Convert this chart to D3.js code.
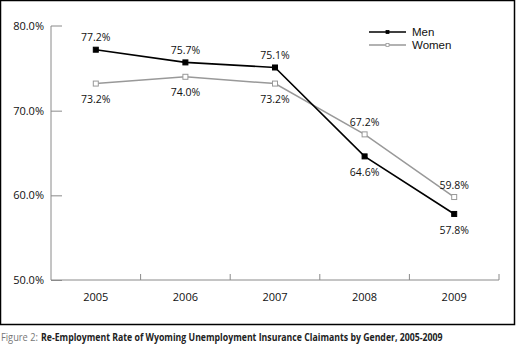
<!DOCTYPE html>
<html lang="en">
<head>
  <meta charset="UTF-8">
  <title>Figure 2</title>
  <script src="https://d3js.org/d3.v7.min.js"></script>
  <style>
    * { margin: 0; padding: 0; box-sizing: border-box; }
    body { background: #fff; font-family: "Open Sans", Arial, sans-serif; }
  </style>
</head>
<body>
  <div id="chart"></div>
  <script>
    const years = ["2005", "2006", "2007", "2008", "2009"];
    const men = [77.2, 75.7, 75.1, 64.6, 57.8];
    const women = [73.2, 74.0, 73.2, 67.2, 59.8];
    const yTicks = [50, 60, 70, 80];
    // label above (true) or below (false) each point
    const menAbove = [true, true, true, false, false];
    const womenAbove = [false, false, false, true, true];

    const W = 516, H = 350;
    const margin = {top: 26, right: 17, bottom: 70, left: 51};
    const width = W - margin.left - margin.right,
          height = 280 - margin.top;

    const root = d3.select("#chart").append("svg")
      .attr("width", W).attr("height", H);

    // frame
    root.append("rect")
      .attr("x", 0.5).attr("y", 0.5)
      .attr("width", 514).attr("height", 324)
      .attr("fill", "none").attr("stroke", "#000").attr("stroke-width", 1.5);

    const svg = root.append("g")
      .attr("transform", `translate(${margin.left},${margin.top})`);

    const x = d3.scaleBand().domain(years).range([0, width]);
    const y = d3.scaleLinear().domain([50, 80]).range([height, 0]);
    const cx = d => x(d) + x.bandwidth() / 2;

    // y axis
    const yAx = svg.append("g")
      .call(d3.axisRight(y).tickValues(yTicks).tickSize(11).tickFormat(""));
    yAx.selectAll("path, line").attr("stroke", "#8a8a8a");
    yAx.select(".domain").attr("d", `M0,${height}V0H11`);
    yAx.selectAll(".tick").filter(d => d === 80).remove();

    svg.append("g").selectAll("text")
      .data(yTicks).join("text")
      .attr("x", -7).attr("y", d => y(d)).attr("dy", "0.35em")
      .attr("text-anchor", "end")
      .style("font-size", "11px").style("fill", "#111")
      .text(d => d.toFixed(1) + "%");

    // x axis
    const xAx = svg.append("g")
      .attr("transform", `translate(0,${height})`);
    xAx.append("line").attr("x1", 0).attr("x2", width)
      .attr("stroke", "#8a8a8a");
    xAx.selectAll(".tk")
      .data(years.slice(1).concat(["end"])).join("line")
      .attr("x1", (d, i) => x.bandwidth() * (i + 1))
      .attr("x2", (d, i) => x.bandwidth() * (i + 1))
      .attr("y1", 0).attr("y2", -6)
      .attr("stroke", "#8a8a8a");
    xAx.selectAll("text")
      .data(years).join("text")
      .attr("x", d => cx(d)).attr("y", 17).attr("dy", "0.35em")
      .attr("text-anchor", "middle")
      .style("font-size", "11px").style("fill", "#111")
      .text(d => d);

    const series = [
      {name: "Men", values: men, above: menAbove, color: "#000", fill: "#000", width: 1.6},
      {name: "Women", values: women, above: womenAbove, color: "#999", fill: "#fff", width: 1.5}
    ];

    const line = d3.line().x((d, i) => cx(years[i])).y(d => y(d));

    series.slice().reverse().forEach(s => {
      svg.append("path").datum(s.values)
        .attr("d", line).attr("fill", "none")
        .attr("stroke", s.color).attr("stroke-width", s.width);
    });
    series.forEach(s => {
      svg.append("g").selectAll("rect")
        .data(s.values).join("rect")
        .attr("x", (d, i) => cx(years[i]) - 2.5)
        .attr("y", d => y(d) - 2.5)
        .attr("width", 5).attr("height", 5)
        .attr("fill", s.fill).attr("stroke", s.color).attr("stroke-width", 1);
      svg.append("g").selectAll("text")
        .data(s.values).join("text")
        .attr("x", (d, i) => cx(years[i]))
        .attr("y", (d, i) => y(d) + (s.above[i] ? -12 : 16))
        .attr("dy", "0.35em")
        .attr("text-anchor", "middle")
        .style("font-size", "10.5px").style("fill", "#111")
        .text(d => d.toFixed(1) + "%");
    });

    // legend
    const lg = root.append("g").attr("transform", "translate(369,32)");
    series.forEach((s, i) => {
      const g = lg.append("g").attr("transform", `translate(0,${i * 13})`);
      g.append("line").attr("x1", 0).attr("x2", 37)
        .attr("stroke", s.color).attr("stroke-width", s.width);
      g.append("rect").attr("x", 17).attr("y", -1.5).attr("width", 3).attr("height", 3)
        .attr("fill", s.fill).attr("stroke", s.color).attr("stroke-width", 0.8);
      g.append("text").attr("x", 43).attr("dy", "0.35em")
        .style("font-family", "'Liberation Sans', Arial, sans-serif")
        .style("font-size", "11.5px").style("fill", "#111").text(s.name);
    });

    // caption, squeezed horizontally to the reference width
    function caption(x0, w, txt, color, bold) {
      const g = root.append("g");
      const t = g.append("text")
        .style("font-size", "11px").style("fill", color)
        .style("font-weight", bold ? "bold" : "normal")
        .text(txt);
      const sx = w / t.node().getComputedTextLength();
      g.attr("transform", `translate(${x0},341) scale(${sx},1)`);
    }
    caption(1, 37, "Figure 2:", "#777", false);
    caption(41, 402, "Re-Employment Rate of Wyoming Unemployment Insurance Claimants by Gender, 2005-2009", "#222", true);
  </script>
</body>
</html>
